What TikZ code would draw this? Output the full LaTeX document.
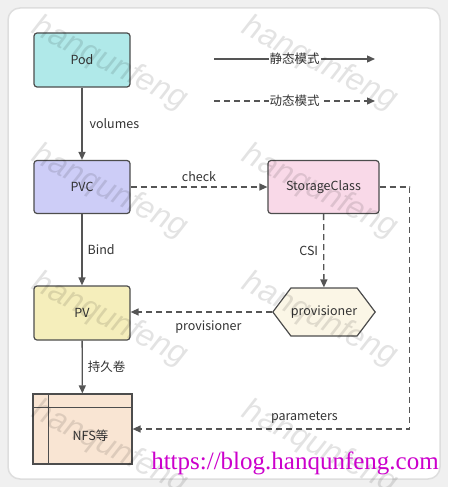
\documentclass[tikz,border=0pt]{standalone}
\usepackage{fontspec}
\setmainfont{Noto Sans CJK SC}
\newfontfamily\urlfont{Liberation Serif}
\newfontfamily\markfont{Liberation Sans}
\usetikzlibrary{arrows.meta, positioning, shapes.symbols, calc}
\definecolor{PageGrey}{HTML}{F0F0F0}
\definecolor{FrameGrey}{HTML}{DEDEDE}
\definecolor{BoxBorder}{HTML}{4D4D4D}
\definecolor{LineGrey}{HTML}{555555}
\definecolor{TextGrey}{HTML}{333333}
\definecolor{PodCyan}{HTML}{B0E9E9}
\definecolor{PvcLilac}{HTML}{CDCDF7}
\definecolor{PvYellow}{HTML}{F5EEBB}
\definecolor{ScPink}{HTML}{F9D9E8}
\definecolor{ProvCream}{HTML}{FBF6E6}
\definecolor{NfsPeach}{HTML}{F9E5D3}
\definecolor{UrlMagenta}{HTML}{CC00CC}
\tikzset{
  % Rounded resource box
  resbox/.style={
    rectangle, draw=BoxBorder, line width=1.2pt,
    rounded corners=3pt, minimum width=96pt,
    minimum height=54pt, inner sep=0pt,
    font=\fontsize{12.5}{14}\selectfont, text=TextGrey
  },
  % Hexagon for the provisioner
  hexbox/.style={
    signal, signal to=west and east, signal pointer angle=106,
    draw=BoxBorder, line width=1.2pt, fill=ProvCream,
    minimum width=100pt, minimum height=48pt, inner sep=0pt,
    font=\fontsize{12.5}{14}\selectfont, text=TextGrey
  },
  % Storage box with inner lines
  storebox/.style={
    rectangle, draw=BoxBorder, line width=1.2pt, fill=NfsPeach,
    minimum width=99pt, minimum height=70pt, inner sep=0pt
  },
  % Static (solid) connector
  static/.style={
    -{Triangle[length=8pt,width=7pt]}, line width=1.3pt, draw=LineGrey
  },
  % Dynamic (dashed) connector
  dynamic/.style={
    static, dash pattern=on 6pt off 4pt
  },
  % Connector label
  lbl/.style={
    font=\fontsize{12.5}{14}\selectfont, text=TextGrey, inner sep=2pt
  },
  % Watermark text
  wmark/.style={
    font=\markfont\itshape\fontsize{32}{32}\selectfont,
    text=black, text opacity=0.11, rotate=-27
  }
}

\begin{document}
\begin{tikzpicture}[x=1pt, y=-1pt]

% Page and frame
\fill[PageGrey] (0,0) rectangle (448,487);
\useasboundingbox (0,0) rectangle (448,487);
\draw[FrameGrey, fill=white, line width=1.5pt, rounded corners=12pt]
  (8,8) rectangle (440,479);

% Resources
\node[resbox, fill=PodCyan] (pod) at (82,60) {Pod};
\node[resbox, fill=PvcLilac, minimum height=53pt] (pvc) at (82,187) {PVC};
\node[resbox, fill=PvYellow] (pv) at (82,313) {PV};
\node[resbox, fill=ScPink, minimum width=111pt, minimum height=53pt]
  (storageclass) at (323.5,187) {StorageClass};
\node[hexbox] (provisioner) at (324,312) {provisioner};

% NFS storage
\node[storebox] (nfs) at (82.5,429) {};
\draw[BoxBorder, line width=1.2pt]
  ($(nfs.north west)+(16,0)$) -- ($(nfs.south west)+(16,0)$);
\draw[BoxBorder, line width=1.2pt]
  ($(nfs.north west)+(0,14)$) -- ($(nfs.north east)+(0,14)$);
\node[lbl] (nfslabel) at ($(nfs.center)+(8,7)$) {NFS等};

% Legend
\coordinate (staticA) at (214,59);
\coordinate (staticB) at (375,59);
\coordinate (dynamicA) at (214,101);
\coordinate (dynamicB) at (375,101);
\draw[static] (staticA) -- node[lbl, fill=white, inner sep=1pt] {静态模式} (staticB);
\draw[dynamic] (dynamicA) -- node[lbl, fill=white, inner sep=1pt] {动态模式} (dynamicB);

% Static path
\draw[static] (pod) -- node[lbl, right=5pt] {volumes} (pvc);
\draw[static] (pvc) -- node[lbl, right=3pt] {Bind} (pv);
\draw[static] (pv) -- node[lbl, right=3pt] {持久卷} (nfs);

% Dynamic path
\draw[dynamic] (pvc) -- node[lbl, above=3pt] {check} (storageclass);
\draw[dynamic] (storageclass) -- node[lbl, left=3pt] {CSI} (provisioner);
\draw[dynamic] (provisioner.west) -- node[lbl, below=6pt, pos=0.45] {provisioner}
  (provisioner.west -| pv.east);
\draw[dynamic] (storageclass.east) -- ++(30,0) |-
  node[lbl, above=3pt, pos=0.69] {parameters} (nfs.east);

% Watermarks
\foreach \wx in {110,320,530}
  \foreach \wy in {64,192,320,448}
    \node[wmark] at (\wx,\wy) {hanqunfeng};

% Blog address
\node[font=\urlfont\fontsize{25}{25}\selectfont, text=UrlMagenta,
      inner sep=0pt] (blogurl) at (295,463)
  {https://blog.hanqunfeng.com};

\end{tikzpicture}
\end{document}
